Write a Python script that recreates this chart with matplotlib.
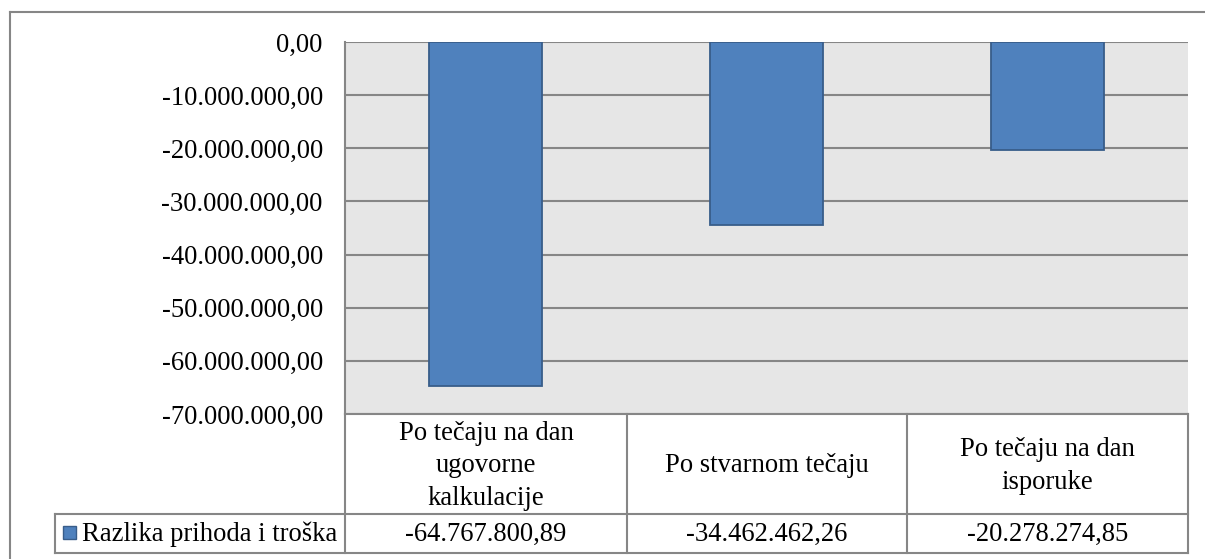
import matplotlib.pyplot as plt
from matplotlib.patches import Rectangle

W, H = 1205, 559

categories = ["Po tečaju na dan\nugovorne\nkalkulacije",
              "Po stvarnom tečaju",
              "Po tečaju na dan\nisporuke"]
values = [-64767800.89, -34462462.26, -20278274.85]
series_name = "Razlika prihoda i troška"
y_ticks = [0, -10e6, -20e6, -30e6, -40e6, -50e6, -60e6, -70e6]

BAR = "#4F81BD"
EDGE = "#385D8A"
GRID = "#868686"
FS = 19.2


def fmt(v):
    s = f"{v:,.2f}"
    return s.replace(",", "X").replace(".", ",").replace("X", ".")


plt.rcParams["font.family"] = ["Liberation Serif", "DejaVu Serif"]

fig = plt.figure(figsize=(W / 100, H / 100), dpi=100)

# plot area in pixel terms
x0, x1, y0, y1 = 345, 1188, 42, 414
ax = fig.add_axes([x0 / W, 1 - y1 / H, (x1 - x0) / W, (y1 - y0) / H])
ax.set_facecolor("#E6E6E6")
ax.bar(range(len(values)), values, width=0.4, color=BAR, edgecolor=EDGE,
       linewidth=1.3, zorder=3)
ax.set_xlim(-0.5, len(values) - 0.5)
ax.set_ylim(-70e6, 0)
ax.set_yticks(y_ticks)
ax.set_yticklabels([fmt(t) for t in y_ticks], fontsize=FS)
ax.set_xticks([])
ax.tick_params(axis="y", length=0, pad=16)
ax.grid(axis="y", color=GRID, linewidth=1.5, zorder=1)
for side in ["top", "right"]:
    ax.spines[side].set_visible(False)
for side in ["left", "bottom"]:
    ax.spines[side].set_color(GRID)
    ax.spines[side].set_linewidth(1.5)

# overlay in pixel coordinates for the data table and frame
ov = fig.add_axes([0, 0, 1, 1], zorder=5)
ov.set_xlim(0, W)
ov.set_ylim(H, 0)
ov.axis("off")
ov.patch.set_alpha(0)

lc = dict(color=GRID, linewidth=1.5)
ov.plot([10, W], [12, 12], **lc)
ov.plot([10, 10], [12, H], **lc)

cols = [345, 627, 907, 1188]
r0, r1, r2 = 414, 514, 553
for cx in cols:
    ov.plot([cx, cx], [r0, r2], **lc)
ov.plot([55, 1188], [r1, r1], **lc)
ov.plot([55, 1188], [r2, r2], **lc)
ov.plot([55, 55], [r1, r2], **lc)

for i, (cat, val) in enumerate(zip(categories, values)):
    cx = (cols[i] + cols[i + 1]) / 2
    ov.text(cx, (r0 + r1) / 2 + 2, cat, ha="center", va="center", fontsize=FS,
            linespacing=1.38)
    ov.text(cx, (r1 + r2) / 2 + 1, fmt(val), ha="center", va="center",
            fontsize=FS)

ov.add_patch(Rectangle((63, 526), 13, 13, facecolor=BAR, edgecolor=EDGE,
                       linewidth=1))
ov.text(82, (r1 + r2) / 2 + 1, series_name, ha="left", va="center",
        fontsize=FS)

fig.savefig("out.png", dpi=100)
